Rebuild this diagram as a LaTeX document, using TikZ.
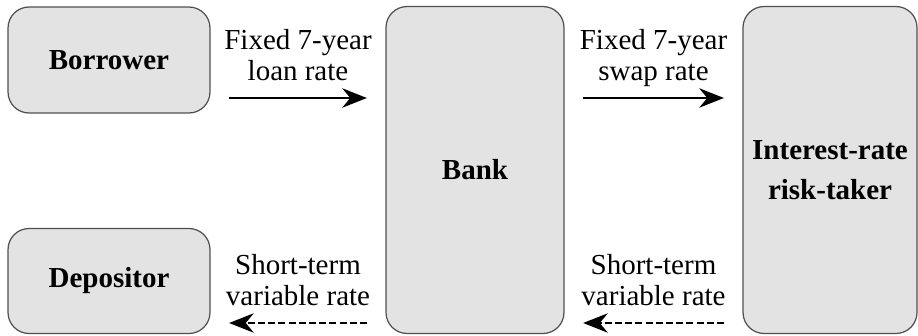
\documentclass[tikz,border=0pt]{standalone}
\usepackage{fontspec}
\setmainfont{Liberation Serif}
\usetikzlibrary{arrows.meta}

\definecolor{boxfill}{HTML}{E3E3E3}
\definecolor{boxline}{HTML}{505050}

\begin{document}
\begin{tikzpicture}[x=0.02cm,y=-0.02cm,
        party/.style={draw=boxline,line width=0.7pt,fill=boxfill,rounded corners=0.42cm,
            align=center,font=\fontsize{16.5}{22.8}\selectfont\bfseries},
        rate/.style={midway,above=6pt,align=center,text depth=0pt,
            font=\fontsize{16.5}{17.6}\selectfont},
        solidarr/.style={line width=1.3pt,shorten <=0.37cm,shorten >=0.37cm,
            -{Stealth[length=14pt,width=11pt,inset=4.5pt]}},
        dasharr/.style={solidarr,dash pattern=on 4pt off 1.8pt}]
        \useasboundingbox (0,0) rectangle (918,335);
        %% the four parties
        \node[party,minimum width=4.04cm,minimum height=2.12cm] (borrower) at (109,60) {Borrower};
        \node[party,minimum width=4.04cm,minimum height=2.10cm] (depositor) at (109,281) {Depositor};
        \node[party,minimum width=3.56cm,minimum height=6.54cm] (bank) at (475,170) {Bank};
        \node[party,minimum width=3.48cm,minimum height=6.54cm] (risk) at (830,170) {Interest-rate\\risk-taker};
        %% fixed legs
        \draw[solidarr] ([yshift=-0.76cm]borrower.east) -- ([yshift=-0.76cm]borrower.east -| bank.west)
            node[rate] {Fixed 7-year\\loan rate};
        \draw[solidarr] ([yshift=-0.76cm]borrower.east -| bank.east) -- ([yshift=-0.76cm]borrower.east -| risk.west)
            node[rate] {Fixed 7-year\\swap rate};
        %% variable legs
        \draw[dasharr] ([yshift=-0.84cm]depositor.east -| bank.west) -- ([yshift=-0.84cm]depositor.east)
            node[rate] {Short-term\\variable rate};
        \draw[dasharr] ([yshift=-0.84cm]depositor.east -| risk.west) -- ([yshift=-0.84cm]depositor.east -| bank.east)
            node[rate] {Short-term\\variable rate};
    \end{tikzpicture}
\end{document}
